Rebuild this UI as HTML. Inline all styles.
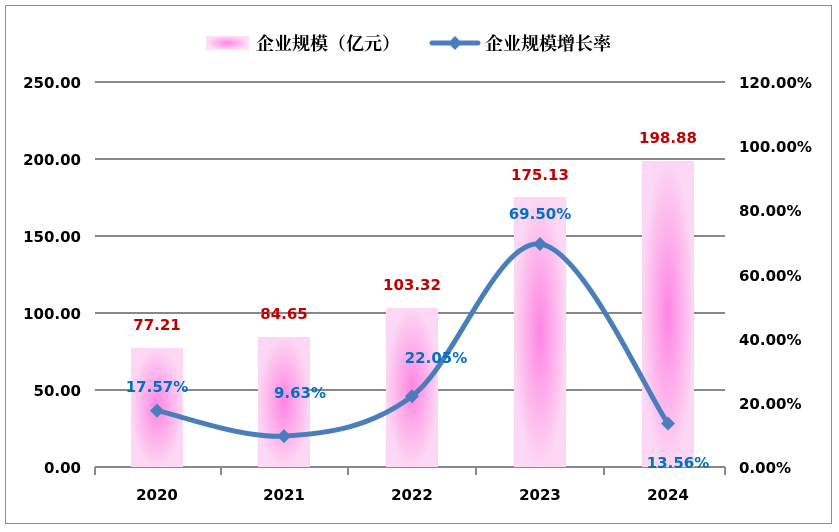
<!DOCTYPE html>
<html><head><meta charset="utf-8"><style>
html,body{margin:0;padding:0;background:#fff}
svg{display:block}
text{font-family:"DejaVu Sans","Noto Sans CJK SC",sans-serif;font-weight:bold}
</style></head><body>
<svg width="839" height="532" viewBox="0 0 839 532" xmlns="http://www.w3.org/2000/svg">
<defs>
<radialGradient id="g" cx="0.5" cy="0.5" r="0.5">
<stop offset="0" stop-color="#fe85e4"/>
<stop offset="1" stop-color="#fdd7f3"/>
</radialGradient>
<radialGradient id="gl" cx="0.5" cy="0.5" r="0.5">
<stop offset="0" stop-color="#fe85e4"/>
<stop offset="1" stop-color="#fde0f6"/>
</radialGradient>
</defs>
<rect x="5.5" y="5.5" width="826" height="518" fill="#fff" stroke="#8c8c8c" stroke-width="1"/>
<g stroke="#888" stroke-width="2">
<line x1="95" y1="82" x2="725" y2="82"/>
<line x1="95" y1="159" x2="725" y2="159"/>
<line x1="95" y1="236" x2="725" y2="236"/>
<line x1="95" y1="313" x2="725" y2="313"/>
<line x1="95" y1="390" x2="725" y2="390"/>
<line x1="95" y1="467" x2="725" y2="467"/>
<line x1="95" y1="467" x2="95" y2="475"/>
<line x1="221" y1="467" x2="221" y2="475"/>
<line x1="348" y1="467" x2="348" y2="475"/>
<line x1="476" y1="467" x2="476" y2="475"/>
<line x1="604" y1="467" x2="604" y2="475"/>
<line x1="725" y1="467" x2="725" y2="475"/>
</g>
<rect x="131" y="348" width="52" height="119" fill="url(#g)"/>
<rect x="258" y="337" width="52" height="130" fill="url(#g)"/>
<rect x="386" y="308" width="52" height="159" fill="url(#g)"/>
<rect x="514" y="197" width="52" height="270" fill="url(#g)"/>
<rect x="642" y="161" width="52" height="306" fill="url(#g)"/>
<path d="M157,410.6 C178.2,414.9 241.5,438.5 284,436.1 C326.5,433.7 369.3,428.2 412,396.2 C454.7,364.2 497.3,239.4 540,244 C582.7,248.5 646.7,393.6 668,423.5" fill="none" stroke="#4a7ebb" stroke-width="5" stroke-linecap="round"/>
<g fill="#4a7ebb">
<path d="M157,403.6 l7,7 l-7,7 l-7,-7z"/>
<path d="M284,429.1 l7,7 l-7,7 l-7,-7z"/>
<path d="M412,389.2 l7,7 l-7,7 l-7,-7z"/>
<path d="M540,237 l7,7 l-7,7 l-7,-7z"/>
<path d="M668,416.5 l7,7 l-7,7 l-7,-7z"/>
</g>
<g font-size="15" fill="#c00000" text-anchor="middle">
<text x="157" y="330">77.21</text>
<text x="284" y="319">84.65</text>
<text x="412" y="290">103.32</text>
<text x="540" y="180">175.13</text>
<text x="668" y="143">198.88</text>
</g>
<g font-size="15" fill="#0070c0" text-anchor="middle">
<text x="157" y="392">17.57%</text>
<text x="300" y="398">9.63%</text>
<text x="436" y="363">22.05%</text>
<text x="540" y="219">69.50%</text>
<text x="678" y="468">13.56%</text>
</g>
<g font-size="15" fill="#000" text-anchor="end">
<text x="81" y="88">250.00</text>
<text x="81" y="165">200.00</text>
<text x="81" y="242">150.00</text>
<text x="81" y="319">100.00</text>
<text x="81" y="396">50.00</text>
<text x="81" y="473">0.00</text>
</g>
<g font-size="15" fill="#000" text-anchor="start">
<text x="739" y="88">120.00%</text>
<text x="739" y="152">100.00%</text>
<text x="739" y="216">80.00%</text>
<text x="739" y="281">60.00%</text>
<text x="739" y="345">40.00%</text>
<text x="739" y="409">20.00%</text>
<text x="739" y="473">0.00%</text>
</g>
<g font-size="15" fill="#000" text-anchor="middle">
<text x="157" y="500">2020</text>
<text x="284" y="500">2021</text>
<text x="412" y="500">2022</text>
<text x="540" y="500">2023</text>
<text x="668" y="500">2024</text>
</g>
<rect x="206" y="36" width="43" height="14" fill="url(#gl)"/>
<text x="256" y="50" font-size="18" fill="#000" style="font-family:'Noto Serif CJK SC',serif">企业规模（亿元）</text>
<line x1="432" y1="43" x2="478" y2="43" stroke="#4a7ebb" stroke-width="5" stroke-linecap="round"/>
<path d="M455,36 l7,7 l-7,7 l-7,-7z" fill="#4a7ebb"/>
<text x="485" y="50" font-size="18" fill="#000" style="font-family:'Noto Serif CJK SC',serif">企业规模增长率</text>
</svg>
</body></html>
